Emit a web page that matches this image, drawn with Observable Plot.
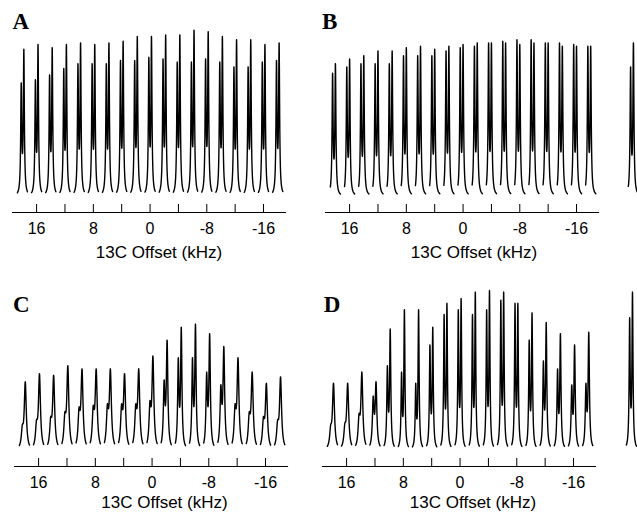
<!DOCTYPE html>
<html>
<head>
<meta charset="utf-8">
<script src="https://cdn.jsdelivr.net/npm/d3@7"></script>
<script src="https://cdn.jsdelivr.net/npm/@observablehq/plot@0.6"></script>
<style>
  body { margin: 0; background: #fff; }
  #fig { position: relative; width: 637px; height: 513px; overflow: hidden; background: #fff; }
  #fig > .cell { position: absolute; width: 300px; height: 260px; }
  #fig svg { max-width: none !important; width: 300px; height: 260px; }
</style>
</head>
<body>
<div id="fig"></div>
<script>
// ---- data (13C offsets in kHz, relative peak intensities) ----
const offsets = [18, 16, 14, 12, 10, 8, 6, 4, 2, 0, -2, -4, -6, -8, -10, -12, -14, -16, -18];
const tickValues = [16, 12, 8, 4, 0, -4, -8, -12, -16];
const labelValues = [16, 8, 0, -8, -16];
const axisTitle = "13C Offset (kHz)";

// panel A
const A_left  = [0.71,0.73,0.76,0.80,0.83,0.83,0.83,0.85,0.85,0.87,0.86,0.84,0.84,0.86,0.84,0.81,0.81,0.84,0.85];
const A_right = [0.92,0.95,0.93,0.95,0.96,0.95,0.96,0.97,1.00,1.00,1.01,1.01,1.04,1.03,1.00,0.98,0.98,0.95,0.96];
const A_width = [0.085,0.085,0.085,0.085,0.085,0.085,0.085,0.085,0.085,0.085,0.085,0.085,0.085,0.085,0.085,0.085,0.085,0.085,0.085];
const A_shift = [0.17, -0.20];
// panel B
const B_left  = [0.77,0.81,0.83,0.83,0.83,0.88,0.88,0.88,0.91,0.93,0.94,0.96,0.97,0.98,0.98,0.96,0.96,0.95,0.94];
const B_right = [0.83,0.86,0.88,0.91,0.91,0.93,0.94,0.92,0.94,0.95,0.96,0.96,0.96,0.95,0.96,0.96,0.94,0.94,0.94];
const B_width = [0.085,0.085,0.085,0.085,0.085,0.085,0.085,0.085,0.085,0.085,0.085,0.085,0.085,0.085,0.085,0.085,0.085,0.085,0.085];
const B_shift = [0.40, 0.00];
// panel C
const C_left  = [0.16,0.19,0.21,0.24,0.27,0.28,0.29,0.29,0.29,0.31,0.44,0.58,0.58,0.49,0.41,0.29,0.24,0.21,0.19];
const C_right = [0.43,0.48,0.47,0.53,0.51,0.51,0.51,0.48,0.51,0.59,0.69,0.77,0.79,0.73,0.65,0.58,0.49,0.42,0.46];
const C_width = [0.17,0.17,0.17,0.17,0.17,0.17,0.17,0.17,0.17,0.16,0.13,0.11,0.11,0.12,0.14,0.16,0.17,0.17,0.17];
const C_shift = [0.30, -0.12];
// panel D
const D_left  = [0.16,0.17,0.23,0.34,0.53,0.49,0.42,0.66,0.85,0.88,0.85,0.88,0.94,0.92,0.69,0.56,0.51,0.41,0.42];
const D_right = [0.42,0.42,0.49,0.43,0.76,0.88,0.88,0.77,0.92,0.95,0.99,1.00,0.99,0.92,0.86,0.80,0.73,0.66,0.74];
const D_width = [0.17,0.17,0.16,0.14,0.10,0.09,0.09,0.09,0.085,0.085,0.085,0.085,0.085,0.085,0.09,0.10,0.10,0.11,0.11];
const D_shift = [0.25, -0.15];
// partial panels at the right edge (only their first peak is visible)
const E_offsets = [18];
const E_left = [0.81], E_right = [0.96], E_width = [0.085];
const E_shift = [0.40, 0.00];
const F_offsets = [18];
const F_left = [0.83], F_right = [0.99], F_width = [0.085];
const F_shift = [0.25, -0.15];

// ---- build spectrum traces (Lorentzian doublets on short segments) ----
function spectrum(centers, left, right, width, shift) {
  const pts = [];
  centers.forEach((c, i) => {
    const g = width[i];
    const xL = c + shift[0], xR = c + shift[1];
    const d = xL - xR;
    const k = (g * g) / (d * d + g * g);
    const aL = (left[i] - k * right[i]) / (1 - k * k);
    const aR = (right[i] - k * left[i]) / (1 - k * k);
    const L = (x, x0) => (g * g) / ((x - x0) * (x - x0) + g * g);
    const n = 360, lo = c - 0.72, hi = c + 0.72;
    const xs = d3.range(n + 1).map(j => hi - (hi - lo) * j / n).concat([xL, xR]);
    for (const x of d3.sort(xs, x => -x)) {
      pts.push({x, y: aL * L(x, xL) + aR * L(x, xR), peak: i});
    }
  });
  return pts;
}

function panel({data, letter, ldx, ldy, tdx, tdy, axis = true}) {
  return Plot.plot({
    width: 300, height: 260,
    marginLeft: 12, marginRight: 15, marginTop: 20, marginBottom: 48,
    x: {domain: [19.4, -19.1], axis: null},
    y: {domain: [-0.1, 1.1], axis: null},
    style: {fontFamily: "'Liberation Sans', Arial, Helvetica, sans-serif", background: "transparent", color: "black", overflow: "visible"},
    marks: [
      axis ? Plot.frame({anchor: "bottom", stroke: "black", strokeWidth: 1.1}) : null,
      axis ? Plot.axisX(tickValues, {anchor: "bottom", tickSize: 8, dy: -8, fill: "none", stroke: "black", label: null}) : null,
      axis ? Plot.axisX(labelValues, {anchor: "bottom", tickSize: 0, tickPadding: 10, tickFormat: d => String(d), fontSize: 16, fill: "black", label: null}) : null,
      axis ? Plot.text([axisTitle], {frameAnchor: "bottom", dy: tdy, dx: tdx, lineAnchor: "top", fontSize: 17, fill: "black"}) : null,
      Plot.line(data, {x: "x", y: "y", z: "peak", stroke: "black", strokeWidth: 1.4, curve: "linear"}),
      letter ? Plot.text([letter], {frameAnchor: "top-left", dx: ldx, dy: ldy, lineAnchor: "top", textAnchor: "start",
        fontFamily: "'Liberation Serif', 'Times New Roman', serif", fontWeight: "bold", fontSize: 23, fill: "black"}) : null
    ]
  });
}

const fig = document.getElementById("fig");
function place(node, left, top) {
  const wrap = document.createElement("div");
  wrap.className = "cell";
  wrap.style.left = left + "px";
  wrap.style.top = top + "px";
  wrap.appendChild(node);
  fig.appendChild(wrap);
}

place(panel({data: spectrum(offsets, A_left, A_right, A_width, A_shift), letter: "A", ldx: 0, ldy: -7.7, tdx: 10, tdy: 33}), 0, 0);
place(panel({data: spectrum(offsets, B_left, B_right, B_width, B_shift), letter: "B", ldx: -3.6, ldy: -7.7, tdx: 12, tdy: 33}), 313, 0);
place(panel({data: spectrum(offsets, C_left, C_right, C_width, C_shift), letter: "C", ldx: -1.4, ldy: 21.5, tdx: 13.5, tdy: 29.5}), 2, 254);
place(panel({data: spectrum(offsets, D_left, D_right, D_width, D_shift), letter: "D", ldx: 1.3, ldy: 21.5, tdx: 14, tdy: 29.5}), 310, 254);
place(panel({data: spectrum(E_offsets, E_left, E_right, E_width, E_shift), axis: false}), 611, 0);
place(panel({data: spectrum(F_offsets, F_left, F_right, F_width, F_shift), axis: false}), 609, 254);
</script>
</body>
</html>
